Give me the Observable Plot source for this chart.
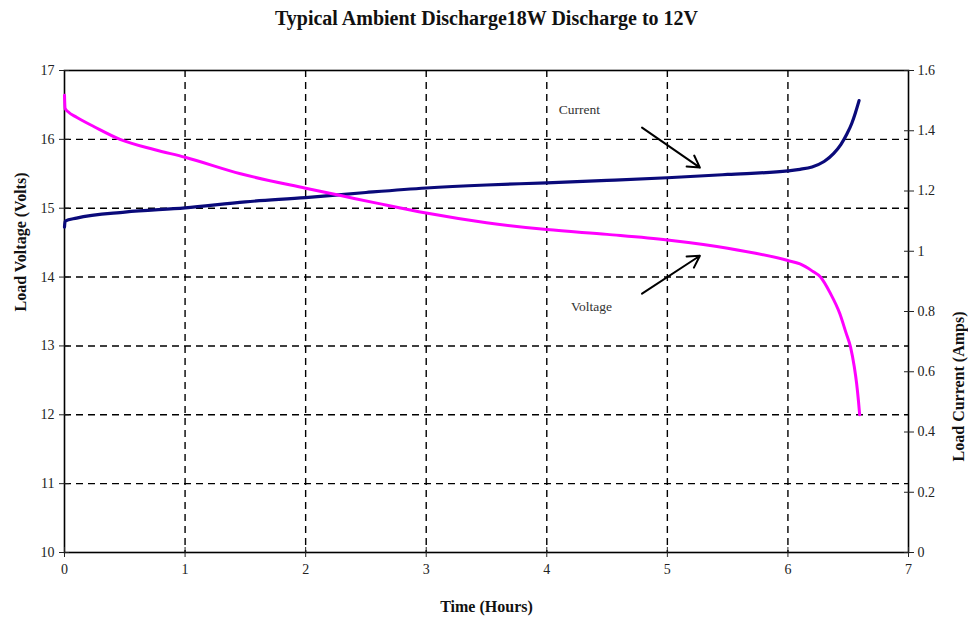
<!DOCTYPE html>
<html>
<head>
<meta charset="utf-8">
<script src="https://cdn.jsdelivr.net/npm/d3@7"></script>
<script src="https://cdn.jsdelivr.net/npm/@observablehq/plot@0.6"></script>
<style>
  html, body { margin: 0; padding: 0; background: #fff; }
  #chart svg { display: block; }
</style>
</head>
<body>
<div id="chart"></div>
<script>
// ---- data ----
const title = "Typical Ambient Discharge18W Discharge to 12V";
const xLabel = "Time (Hours)";
const yLabelLeft = "Load Voltage (Volts)";
const yLabelRight = "Load Current (Amps)";

const xTicks = [0, 1, 2, 3, 4, 5, 6, 7];
const voltTicks = [10, 11, 12, 13, 14, 15, 16, 17];
const ampTicks = [0, 0.2, 0.4, 0.6, 0.8, 1, 1.2, 1.4, 1.6];

const voltageTime = [0, 0.005, 0.03, 0.1, 0.25, 0.46, 0.75, 1.0, 1.46, 2.0, 2.3, 2.6, 3.0, 3.5, 4.0, 4.5, 5.0, 5.5, 6.0, 6.1, 6.2, 6.27, 6.35, 6.43, 6.48, 6.52, 6.55, 6.57, 6.585, 6.595];
const voltage     = [16.64, 16.45, 16.40, 16.32, 16.18, 16.00, 15.85, 15.74, 15.50, 15.29, 15.18, 15.07, 14.93, 14.79, 14.69, 14.62, 14.54, 14.42, 14.24, 14.19, 14.09, 14.00, 13.77, 13.47, 13.20, 12.98, 12.70, 12.45, 12.20, 12.0];

const currentTime = [0, 0.005, 0.1, 0.5, 1.0, 1.5, 2.0, 2.5, 3.0, 3.5, 4.0, 4.5, 5.0, 5.5, 6.0, 6.1, 6.2, 6.3, 6.38, 6.44, 6.49, 6.53, 6.56, 6.59];
const current     = [1.08, 1.10, 1.11, 1.13, 1.144, 1.164, 1.178, 1.195, 1.21, 1.22, 1.227, 1.235, 1.244, 1.255, 1.267, 1.272, 1.28, 1.298, 1.325, 1.355, 1.39, 1.425, 1.46, 1.50];

const annLabels = ["Current", "Voltage"];
const annLabelX = [4.1, 4.2];
const annLabelY = [16.43, 13.57];
const arrowX1 = [4.79, 4.79];
const arrowY1 = [16.17, 13.76];
const arrowX2 = [5.27, 5.27];
const arrowY2 = [15.59, 14.31];

// ---- build ----
const vMin = 10, vMax = 17, aMax = 1.6;
const ampToVolt = a => vMin + a * (vMax - vMin) / aMax;

const voltData = voltageTime.map((t, i) => ({t, v: voltage[i]}));
const currData = currentTime.map((t, i) => ({t, v: ampToVolt(current[i])}));
const annData = annLabels.map((s, i) => ({s, x: annLabelX[i], y: annLabelY[i]}));
const arrowData = arrowX1.map((x1, i) => ({x1, y1: arrowY1[i], x2: arrowX2[i], y2: arrowY2[i]}));
const ampTickPos = ampTicks.map(ampToVolt);

const tickFont = 14;

const chart = Plot.plot({
  width: 968,
  height: 619,
  marginTop: 70,
  marginBottom: 67,
  marginLeft: 64,
  marginRight: 60,
  style: {fontFamily: "'Liberation Serif', 'DejaVu Serif', serif", fontSize: "14px", color: "#222", background: "#fff"},
  x: {domain: [0, 7]},
  y: {domain: [vMin, vMax]},
  marks: [
    Plot.gridX(xTicks.slice(1, -1), {stroke: "#000", strokeOpacity: 1, strokeWidth: 1.4, strokeDasharray: "7,5"}),
    Plot.gridY(voltTicks.slice(1, -1), {stroke: "#000", strokeOpacity: 1, strokeWidth: 1.4, strokeDasharray: "7,5"}),
    Plot.frame({stroke: "#000", strokeWidth: 1.6}),
    Plot.axisX({ticks: xTicks, tickSize: 5, tickPadding: 7, label: null, fontSize: tickFont, tickFormat: d => d}),
    Plot.axisX({ticks: xTicks, tickSize: -5, label: null, tickFormat: () => ""}),
    Plot.axisY({ticks: voltTicks, tickSize: 5, tickPadding: 5, label: null, fontSize: tickFont, tickFormat: d => d}),
    Plot.axisY({ticks: voltTicks, tickSize: -5, label: null, tickFormat: () => ""}),
    Plot.axisY({anchor: "right", ticks: ampTickPos, tickSize: 5, tickPadding: 4, label: null, fontSize: tickFont,
      tickFormat: (d, i) => String(ampTicks[i])}),
    Plot.axisY({anchor: "right", ticks: ampTickPos, tickSize: -5, label: null, tickFormat: () => ""}),
    Plot.line(currData, {x: "t", y: "v", stroke: "#0a0a7a", strokeWidth: 3.2, curve: "monotone-x"}),
    Plot.line(voltData, {x: "t", y: "v", stroke: "#ff00ff", strokeWidth: 3, curve: "monotone-x"}),
    Plot.arrow(arrowData, {x1: "x1", y1: "y1", x2: "x2", y2: "y2", stroke: "#000", strokeWidth: 2, headLength: 10}),
    Plot.text(annData, {x: "x", y: "y", text: "s", textAnchor: "start", fontSize: 13.5, fill: "#333"}),
    Plot.text([title], {frameAnchor: "top", lineAnchor: "middle", dy: -52, text: d => d, fontSize: 20, fontWeight: "bold", fill: "#111"}),
    Plot.text([xLabel], {frameAnchor: "bottom", lineAnchor: "middle", dy: 54, text: d => d, fontSize: 16, fontWeight: "bold", fill: "#111"}),
    Plot.text([yLabelLeft], {frameAnchor: "left", dx: -44, rotate: -90, text: d => d, fontSize: 16, fontWeight: "bold", fill: "#111"}),
    Plot.text([yLabelRight], {frameAnchor: "right", dx: 50, rotate: -90, text: d => d, fontSize: 16, fontWeight: "bold", fill: "#111"})
  ]
});
document.getElementById("chart").appendChild(chart);
</script>
</body>
</html>
